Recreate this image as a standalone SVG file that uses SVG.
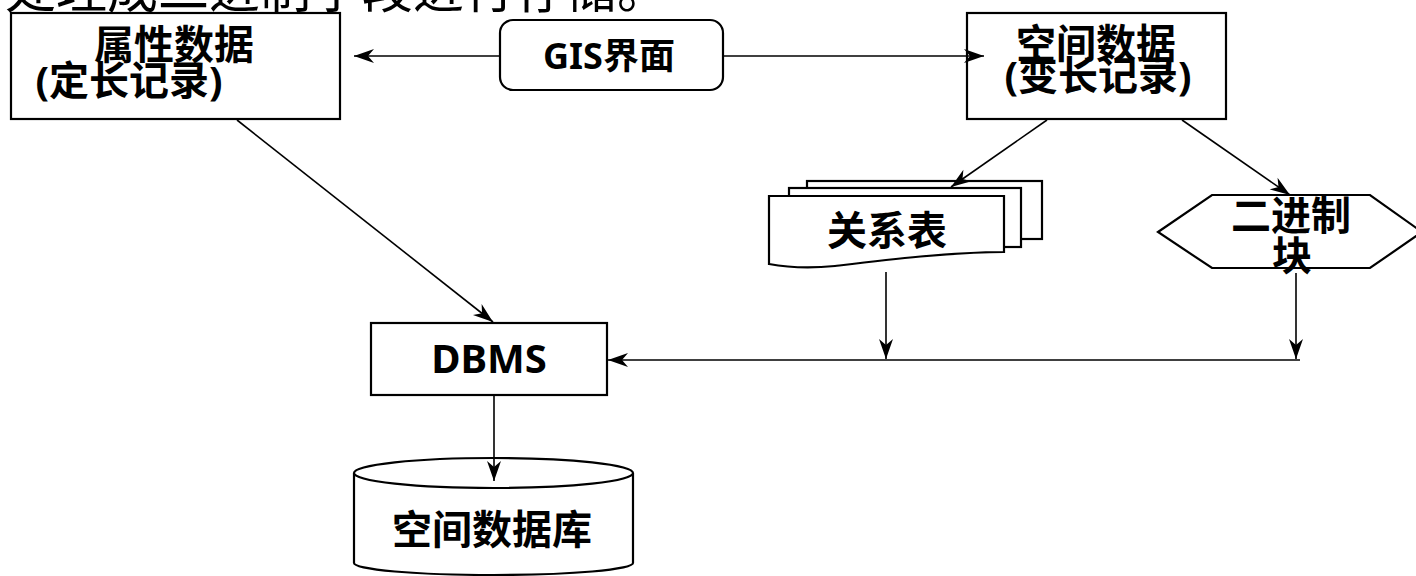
<svg xmlns="http://www.w3.org/2000/svg" width="1416" height="576" viewBox="0 0 1416 576">
<style>
.shape{fill:#fff;stroke:#000;stroke-width:2.2}
.lbl{font-family:"Noto Sans","Noto Sans CJK SC",sans-serif;font-weight:bold;font-size:40px;fill:#000;text-anchor:middle}
.cap{font-family:"Noto Sans CJK SC",sans-serif;font-size:51px;fill:#000}
.conn line{stroke:#000;stroke-width:1.6;fill:none}
.arr{marker-end:url(#ah)}
</style>
<defs>
<marker id="ah" markerUnits="userSpaceOnUse" viewBox="-22 -9 24 18" refX="0" refY="0" markerWidth="24" markerHeight="18" orient="auto">
<path d="M-20,-7 L0,0 L-20,7 L-14,0 Z" fill="#000"/>
</marker>
</defs>
<rect width="1416" height="576" fill="#fff"/>
<text class="cap" x="5" y="8">处理成二进制字段进行存储。</text>

<g id="attr">
<rect class="shape" x="11" y="13" width="329" height="106"/>
<text class="lbl" x="174" y="59">属性数据</text>
<text class="lbl" x="129" y="95">(定长记录)</text>
</g>
<g id="gis">
<rect class="shape" x="500" y="20" width="223" height="70" rx="13"/>
<text class="lbl" x="609" y="69" style="font-size:36px">GIS界面</text>
</g>
<g id="spatial">
<rect class="shape" x="967" y="13" width="259" height="106"/>
<text class="lbl" x="1096" y="58">空间数据</text>
<text class="lbl" x="1098" y="90">(变长记录)</text>
</g>
<g id="reltable">
<rect class="shape" x="807" y="181" width="235" height="58"/>
<rect class="shape" x="789" y="188" width="232" height="59"/>
<path class="shape" d="M769,196 H1004 V252 C950,252 885,260 835,266 C805,269 785,267 769,264 Z"/>
<text class="lbl" x="887" y="245">关系表</text>
</g>
<g id="binblock">
<polygon class="shape" points="1158,232 1212,195 1370,195 1422,232 1370,268 1212,268"/>
<text class="lbl" x="1291" y="230">二进制</text>
<text class="lbl" x="1292" y="270">块</text>
</g>
<g id="dbms">
<rect class="shape" x="371" y="323" width="236" height="72"/>
<text class="lbl" x="489" y="373">DBMS</text>
</g>
<g id="spatialdb">
<path class="shape" d="M354,473 V563 A139.5,12 0 0 0 633,563 V473"/>
<ellipse class="shape" cx="493.5" cy="473" rx="139.5" ry="15"/>
<text class="lbl" x="492" y="544">空间数据库</text>
</g>
<g class="conn" id="connectors">
<line class="arr" x1="500" y1="56" x2="354" y2="56"/>
<line class="arr" x1="723" y1="56" x2="984" y2="56"/>
<line class="arr" x1="237" y1="120" x2="493" y2="322"/>
<line class="arr" x1="1047" y1="120" x2="951" y2="187"/>
<line class="arr" x1="1182" y1="120" x2="1290" y2="195"/>
<line class="arr" x1="886" y1="272" x2="886" y2="359"/>
<line class="arr" x1="1296" y1="273" x2="1296" y2="359"/>
<line class="arr" x1="1300" y1="360" x2="608" y2="360"/>
<line class="arr" x1="494" y1="395" x2="494" y2="481"/>
</g>
</svg>
